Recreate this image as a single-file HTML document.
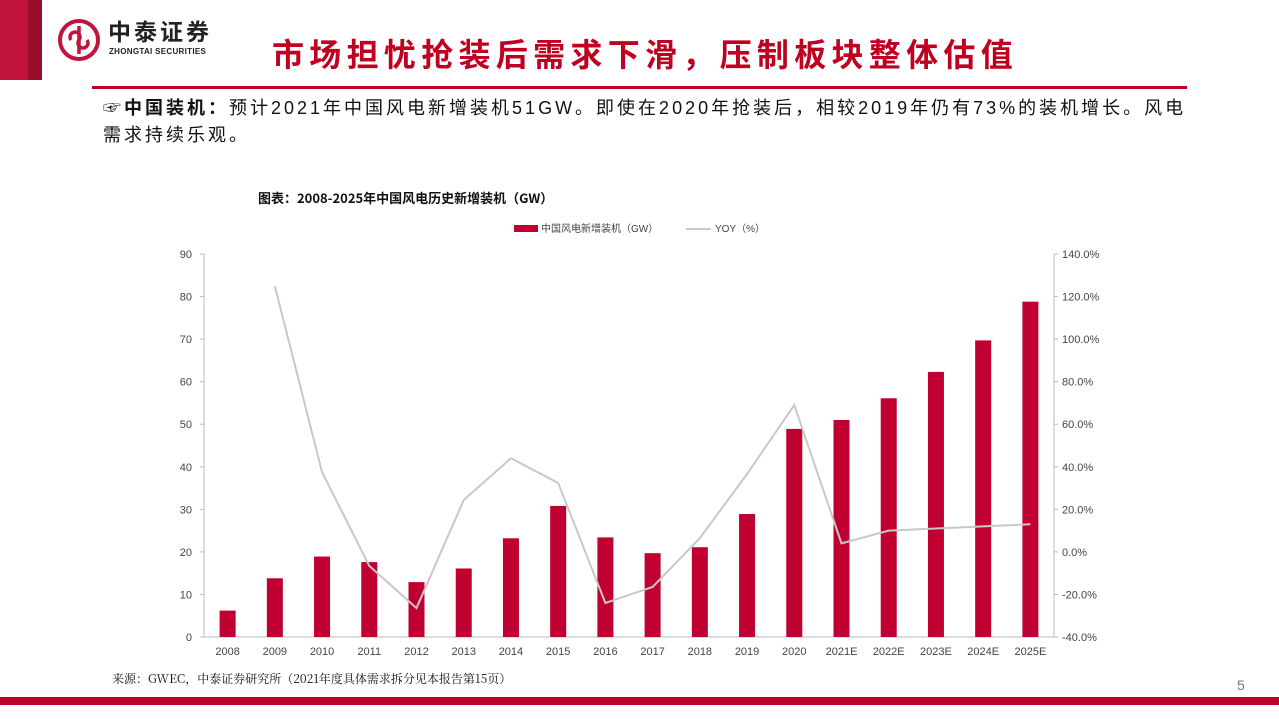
<!DOCTYPE html>
<html><head><meta charset="utf-8"><style>
body{margin:0;width:1279px;height:719px;background:#fff;position:relative;overflow:hidden;font-family:"Liberation Sans","Noto Sans CJK SC",sans-serif}
.abs{position:absolute}
</style></head><body>
<div class="abs" style="left:0;top:0;width:28px;height:80px;background:#c0143c"></div>
<div class="abs" style="left:28px;top:0;width:14px;height:80px;background:#9a0c2c"></div>
<svg class="abs" style="left:57px;top:18px" width="44" height="44" viewBox="0 0 44 44"><circle cx="22" cy="22" r="19" fill="none" stroke="#c0143c" stroke-width="4"/><path d="M22 8 V36 M14 22 a5 5 0 1 1 8 0 a5 5 0 1 0 8 0" fill="none" stroke="#c0143c" stroke-width="3.5"/></svg>
<div class="abs" style="left:108px;top:19px;font-size:23px;line-height:26px;font-weight:bold;color:#222;letter-spacing:3px">中泰证券</div>
<div class="abs" style="left:109px;top:47px;font-size:8px;font-weight:bold;color:#222;letter-spacing:0.3px">ZHONGTAI SECURITIES</div>
<div class="abs" style="left:272px;top:33px;font-size:32px;line-height:40px;font-weight:bold;color:#c00020;font-family:'Noto Sans CJK SC',sans-serif;letter-spacing:5.3px">市场担忧抢装后需求下滑，压制板块整体估值</div>
<div class="abs" style="left:92px;top:86px;width:1095px;height:3px;background:#c00020"></div>
<div class="abs" style="left:103px;top:95px;width:1090px;font-size:18px;line-height:27px;color:#111;letter-spacing:3px">☞<b>中国装机：</b>预计2021年中国风电新增装机51GW。即使在2020年抢装后，相较2019年仍有73%的装机增长。风电需求持续乐观。</div>
<div class="abs" style="left:258px;top:188px;font-size:13px;font-weight:bold;color:#111;font-family:'Noto Sans CJK SC',sans-serif">图表：2008-2025年中国风电历史新增装机（GW）</div>
<svg class="abs" id="chart" style="left:0;top:0" width="1279" height="719"></svg>
<div class="abs" style="left:112px;top:670px;font-size:12px;color:#111;font-family:'Noto Serif CJK SC',serif">来源：GWEC，中泰证券研究所（2021年度具体需求拆分见本报告第15页）</div>
<div class="abs" style="left:1237px;top:677px;font-size:14px;color:#777">5</div>
<div class="abs" style="left:0;top:697px;width:1279px;height:8px;background:#c4002e"></div>
<script>
const categories=["2008","2009","2010","2011","2012","2013","2014","2015","2016","2017","2018","2019","2020","2021E","2022E","2023E","2024E","2025E"];
const installs=[6.2,13.8,18.9,17.6,12.9,16.1,23.2,30.8,23.4,19.7,21.1,28.9,48.9,51,56.1,62.3,69.7,78.8];
const yoy=[null,124.9,37.5,-6.6,-26.4,24.4,44,32.4,-24,-16.5,6.5,36.6,69,4,10,11,12,13];
const leftTicks=[0,10,20,30,40,50,60,70,80,90];
const rightTicks=[-40,-20,0,20,40,60,80,100,120,140];
const NS="http://www.w3.org/2000/svg",svg=document.getElementById('chart');
const X0=204,X1=1054,Y0=637,Y1=254,step=(X1-X0)/categories.length;
const xc=i=>X0+step*(i+0.5);
const yl=v=>Y0-(v/90)*(Y0-Y1);
const yr=v=>Y0-((v+40)/180)*(Y0-Y1);
function mk(t,a,txt){const e=document.createElementNS(NS,t);for(const k in a)e.setAttribute(k,a[k]);if(txt!=null)e.textContent=txt;svg.appendChild(e);return e;}
let e;
e=mk('line',{x1:X0,y1:Y1,x2:X0,y2:Y0,stroke:'#bbb'});

e=mk('line',{x1:X1,y1:Y1,x2:X1,y2:Y0,stroke:'#bbb'});

e=mk('line',{x1:X0,y1:Y0,x2:X1,y2:Y0,stroke:'#bbb'});

leftTicks.forEach(v=>{mk('line',{x1:X0-4,x2:X0,y1:yl(v),y2:yl(v),stroke:'#bbb'});
e=mk('text',{x:192,y:yl(v)+4,'text-anchor':'end','font-size':11,fill:'#444'},v);
});
rightTicks.forEach(v=>{mk('line',{x1:X1,x2:X1+4,y1:yr(v),y2:yr(v),stroke:'#bbb'});
e=mk('text',{x:1062,y:yr(v)+4,'font-size':11,fill:'#444'},v.toFixed(1)+'%');
});
categories.forEach((c,i)=>{
e=mk('rect',{x:xc(i)-8,y:yl(installs[i]),width:16,height:Y0-yl(installs[i]),fill:'#c00030'});

e=mk('text',{x:xc(i),y:655,'text-anchor':'middle','font-size':11,fill:'#444'},c);

});
let d='';yoy.forEach((v,i)=>{if(v==null)return;d+=(d?'L':'M')+xc(i)+' '+yr(v);});
e=mk('path',{d:d,fill:'none',stroke:'#c8c8c8','stroke-width':2});

e=mk('rect',{x:514,y:225,width:24,height:7,fill:'#c00030'});

e=mk('text',{x:541,y:232,'font-size':10,fill:'#444'},'中国风电新增装机（GW）');

e=mk('line',{x1:686,x2:711,y1:229,y2:229,stroke:'#c8c8c8','stroke-width':2});

e=mk('text',{x:715,y:232,'font-size':10,fill:'#444'},'YOY（%）');

</script>
</body></html>
